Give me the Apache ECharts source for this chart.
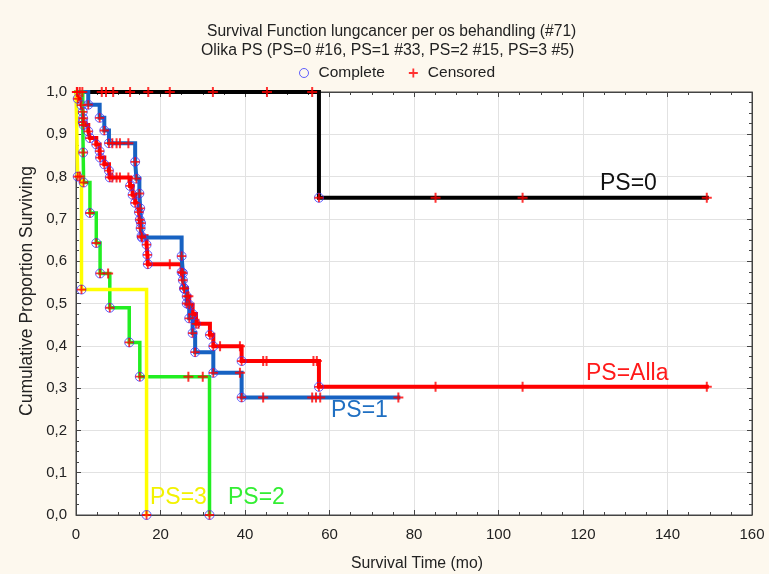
<!DOCTYPE html>
<html>
<head>
<meta charset="utf-8">
<script src="https://cdn.jsdelivr.net/npm/echarts@6/dist/echarts.min.js"></script>
<style>
  html, body { margin: 0; padding: 0; background: #fdf8ee; }
  #chart { width: 769px; height: 574px; }
</style>
</head>
<body>
<div id="chart"></div>
<script>
// Kaplan-Meier survival steps per PS group: time of each death (months) and survival after it
const ps0Times = [57.5];
const ps0Surv = [0.75];
const ps0Censored = [0.3, 0.9, 1.5, 6.1, 7.1, 8.8, 12.8, 17.1, 22.2, 32.4, 45.2, 55.9, 85.1, 105.7, 149.3];

const ps1Times = [2.9, 5.6, 6.7, 7.8, 14.0, 14.3, 15.0, 15.2, 15.4, 15.6, 25.0, 25.3, 25.6, 26.2, 26.8, 27.6, 28.2, 32.5, 39.2];
const ps1Surv = [0.970, 0.939, 0.909, 0.879, 0.835, 0.795, 0.760, 0.725, 0.690, 0.656, 0.612, 0.572, 0.535, 0.500, 0.465, 0.430, 0.385, 0.336, 0.278];
const ps1Censored = [8.6, 9.6, 10.4, 12.4, 38.8, 44.3, 55.9, 56.8, 57.8, 76.3];

const ps2Times = [1.6, 1.7, 1.8, 3.3, 4.8, 5.7, 8.0, 12.6, 15.1, 31.6];
const ps2Surv = [0.929, 0.857, 0.786, 0.714, 0.643, 0.571, 0.490, 0.408, 0.327, 0.0];
const ps2Censored = [0.2, 7.6, 26.6, 30.0];

const ps3Times = [0.4, 1.3, 16.7];
const ps3Surv = [0.8, 0.533, 0.0];
const ps3Censored = [0.9];

const allTimes = [0.4, 1.3, 1.6, 1.7, 1.8, 2.9, 3.3, 4.8, 5.6, 5.7, 6.7, 7.8, 8.0,
  12.8, 13.4, 14.0, 14.9, 15.1, 15.3, 15.5, 16.7, 16.9, 17.0,
  25.0, 25.3, 25.6, 26.2, 26.8, 27.6, 28.4, 31.7, 32.5, 39.2, 57.5];
const allSurv = [0.984, 0.969, 0.953, 0.938, 0.922, 0.907, 0.891, 0.876, 0.860, 0.845, 0.829, 0.814, 0.798,
  0.778, 0.757, 0.738, 0.716, 0.698, 0.678, 0.659, 0.639, 0.615, 0.593,
  0.574, 0.555, 0.536, 0.517, 0.497, 0.475, 0.452, 0.426, 0.399, 0.364, 0.303];
const allCensored = [8.6, 9.6, 10.4, 12.4, 22.2, 26.6, 29.0, 34.1, 38.8, 44.3, 45.1, 56.2, 57.0, 85.1, 105.7, 149.3];

const xTicks = { min: 0, max: 160, step: 20 };
const yTicks = { min: 0, max: 1, step: 0.1 };

// survival level of a curve at time t
function levelAt(times, surv, t) {
  let s = 1;
  for (let i = 0; i < times.length; i++) if (times[i] <= t) s = surv[i];
  return s;
}
// step polyline: start at (0,1), one vertex per death, extend to last censoring
function stepPoints(times, surv, censored) {
  const pts = [[0, 1]];
  times.forEach((t, i) => pts.push([t, surv[i]]));
  const lastEvent = times[times.length - 1];
  const lastT = Math.max(lastEvent, ...censored);
  if (lastT > lastEvent) pts.push([lastT, surv[surv.length - 1]]);
  return pts;
}
function eventPoints(times, surv) { return times.map((t, i) => [t, surv[i]]); }
function censorPoints(times, surv, censored) { return censored.map(c => [c, levelAt(times, surv, c)]); }

const groups = [
  { name: 'PS=0', times: ps0Times, surv: ps0Surv, cens: ps0Censored, color: '#000000', width: 4 },
  { name: 'PS=Alla', times: allTimes, surv: allSurv, cens: allCensored, color: '#ff0000', width: 4 },
  { name: 'PS=1', times: ps1Times, surv: ps1Surv, cens: ps1Censored, color: '#1762c2', width: 4 },
  { name: 'PS=2', times: ps2Times, surv: ps2Surv, cens: ps2Censored, color: '#22ee22', width: 3.5 },
  { name: 'PS=3', times: ps3Times, surv: ps3Surv, cens: ps3Censored, color: '#ffff00', width: 3.5 }
];

const PLUS = 'path://M4,0H6V4H10V6H6V10H4V6H0V4H4Z';
const FONT = 'Liberation Sans, Arial, sans-serif';

const lineSeries = groups.map((g, k) => ({
  name: g.name,
  type: 'line',
  step: 'end',
  data: stepPoints(g.times, g.surv, g.cens),
  showSymbol: false,
  silent: true,
  z: 2 + k,
  lineStyle: { color: g.color, width: g.width, cap: 'square', join: 'miter' }
}));

const allEvents = [].concat(...groups.map(g => eventPoints(g.times, g.surv)));
const allCensors = [].concat(...groups.map(g => censorPoints(g.times, g.surv, g.cens)));

const markerSeries = [
  {
    name: 'Complete', type: 'scatter', data: allEvents, symbol: 'circle', symbolSize: 9, z: 10,
    itemStyle: { color: 'rgba(0,0,0,0)', borderColor: '#3a3aff', borderWidth: 1 }
  },
  {
    name: 'CompleteCross', type: 'scatter', data: allEvents, symbol: PLUS, symbolSize: 9, z: 11,
    itemStyle: { color: '#ff0000' }
  },
  {
    name: 'Censored', type: 'scatter', data: allCensors, symbol: PLUS, symbolSize: 10, z: 11,
    itemStyle: { color: '#ff0000' }
  }
];

const axisLineStyle = { color: '#444', width: 1 };
function frameX(position, labels) {
  return {
    type: 'value', position, min: xTicks.min, max: xTicks.max, interval: xTicks.step,
    axisLine: { show: true, onZero: false, lineStyle: axisLineStyle },
    axisTick: { show: true, inside: true, length: 5, lineStyle: axisLineStyle },
    minorTick: { show: true, splitNumber: 4, length: 3, lineStyle: { color: '#444' } },
    splitLine: { show: labels, lineStyle: { color: '#e2e2e2', width: 1 } },
    axisLabel: { show: labels, color: '#222', fontSize: 15, fontFamily: FONT, margin: 12 },
    name: labels ? 'Survival Time (mo)' : '',
    nameLocation: 'middle', nameGap: 41,
    nameTextStyle: { color: '#222', fontSize: 15.8, fontFamily: FONT, padding: [0, 0, 0, 6] }
  };
}
function frameY(position, labels) {
  return {
    type: 'value', position, min: yTicks.min, max: yTicks.max, interval: yTicks.step,
    axisLine: { show: true, onZero: false, lineStyle: axisLineStyle },
    axisTick: { show: true, inside: true, length: 5, lineStyle: axisLineStyle },
    minorTick: { show: true, splitNumber: 4, length: 3, lineStyle: { color: '#444' } },
    splitLine: { show: labels, lineStyle: { color: '#e2e2e2', width: 1 } },
    axisLabel: {
      show: labels, color: '#222', fontSize: 15, fontFamily: FONT, margin: 9,
      formatter: v => v.toFixed(1).replace('.', ',')
    }
  };
}

const curveLabels = [
  { text: 'PS=0', x: 600, y: 184, color: '#111111' },
  { text: 'PS=Alla', x: 586, y: 374, color: '#ff1a1a' },
  { text: 'PS=1', x: 331, y: 411, color: '#1f6fc2' },
  { text: 'PS=3', x: 150, y: 498, color: '#f2f200' },
  { text: 'PS=2', x: 228, y: 498, color: '#33ee33' }
];

const chart = echarts.init(document.getElementById('chart'), null, { renderer: 'canvas' });
chart.setOption({
  backgroundColor: '#fdf8ee',
  animation: false,
  title: [
    { text: 'Survival Function lungcancer per os behandling (#71)', left: 202, top: 19,
      textStyle: { fontSize: 15.6, fontWeight: 'normal', color: '#222', fontFamily: FONT } },
    { text: 'Olika PS (PS=0 #16, PS=1 #33, PS=2 #15, PS=3 #5)', left: 196, top: 38,
      textStyle: { fontSize: 15.8, fontWeight: 'normal', color: '#222', fontFamily: FONT } }
  ],
  legend: {
    data: [
      { name: 'Complete', icon: 'circle', itemStyle: { color: 'rgba(0,0,0,0)', borderColor: '#3a3aff', borderWidth: 1 } },
      { name: 'Censored', icon: PLUS, itemStyle: { color: '#ff0000' } }
    ],
    left: 294, top: 60, itemWidth: 9, itemHeight: 9, itemGap: 24,
    textStyle: { fontSize: 15.5, color: '#222', fontFamily: FONT, padding: [0, 0, 0, 5] }
  },
  grid: {
    left: 76, right: 17, top: 92, bottom: 59,
    outerBoundsMode: 'none', containLabel: false,
    show: true, backgroundColor: '#ffffff', borderColor: '#444', borderWidth: 1
  },
  xAxis: [frameX('bottom', true), frameX('top', false)],
  yAxis: [frameY('left', true), frameY('right', false)],
  series: lineSeries.concat(markerSeries),
  graphic: curveLabels.map(l => ({
    type: 'text', left: l.x, top: l.y - 12, z: 20,
    style: { text: l.text, fill: l.color, fontSize: 23, fontFamily: FONT }
  })).concat([{
    type: 'text', x: 27, y: 291, rotation: Math.PI / 2, z: 20,
    style: {
      text: 'Cumulative Proportion Surviving', fill: '#222', fontSize: 17.5, fontFamily: FONT,
      align: 'center', verticalAlign: 'middle'
    }
  }])
});
</script>
</body>
</html>
